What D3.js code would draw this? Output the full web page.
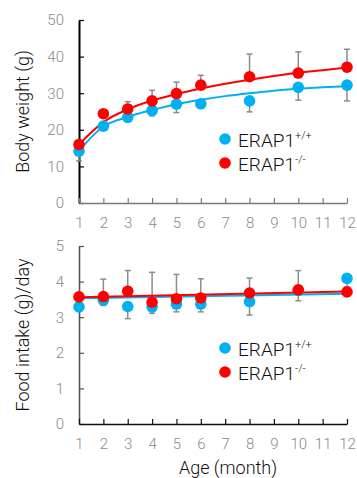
<!DOCTYPE html>
<html>
<head>
<meta charset="utf-8">
<script src="https://cdn.jsdelivr.net/npm/d3@7"></script>
<style>
  html, body { margin: 0; padding: 0; background: #fff; }
  svg { display: block; }
  text { font-family: Roboto, sans-serif; font-weight: 300; }
</style>
</head>
<body>
<svg id="chart" width="357" height="478"></svg>
<script>
// ---- data ----
const months = [1, 2, 3, 4, 5, 6, 8, 10, 12];
const xTicks = [1, 2, 3, 4, 5, 6, 7, 8, 9, 10, 11, 12];
const seriesNames = ["ERAP1", "ERAP1"];
const seriesSup = ["+/+", "-/-"];

// Body weight (g)
const bwWT = [14.2, 21.0, 23.4, 25.3, 27.0, 27.1, 27.9, 31.6, 32.2];
const bwWTerr = [2.7, 0.6, 0.8, 1.5, 2.3, 0.8, 3.0, 3.5, 4.3];      // drawn downward
const bwKO = [16.0, 24.4, 25.7, 27.9, 29.9, 32.2, 34.5, 35.5, 37.1];
const bwKOerr = [0.8, 0.6, 2.0, 2.9, 3.1, 2.7, 6.2, 5.8, 4.9];      // drawn upward
// trend curves read at each month
const trendMonths = [1, 2, 3, 4, 5, 6, 7, 8, 9, 10, 11, 12];
const bwWTtrend = [14.3, 20.9, 23.5, 25.4, 27.0, 28.2, 29.2, 30.0, 30.7, 31.2, 31.6, 31.9];
const bwKOtrend = [16.0, 22.1, 25.6, 28.0, 29.8, 31.3, 32.6, 33.7, 34.7, 35.6, 36.3, 37.0];
const bwTicks = [0, 10, 20, 30, 40, 50];

// Food intake (g)/day
const fiWT = [3.29, 3.48, 3.30, 3.29, 3.37, 3.37, 3.44, 3.75, 4.09];
const fiWTerr = [0.1, 0.15, 0.34, 0.18, 0.22, 0.22, 0.38, 0.29, 0.25];
const fiKO = [3.57, 3.58, 3.73, 3.42, 3.52, 3.54, 3.68, 3.77, 3.71];
const fiKOerr = [0.1, 0.49, 0.58, 0.84, 0.68, 0.54, 0.42, 0.54, 0.1];
const fiTrendMonths = [1, 12];
const fiWTtrend = [3.53, 3.66];
const fiKOtrend = [3.56, 3.72];
const fiTicks = [0, 1, 2, 3, 4, 5];

const BLUE = "#00B0F0", RED = "#FF0000", ERR = "#8c8c8c", TICKC = "#8a8a8a";

const svg = d3.select("#chart");
const x = d3.scaleLinear().domain([1, 12]).range([79, 347]);

function panel(cfg) {
  const y = d3.scaleLinear().domain(cfg.domain).range(cfg.range);
  const g = svg.append("g");

  // axes
  const ya = g.append("g").attr("transform", `translate(${x(1)},0)`)
    .call(d3.axisLeft(y).tickValues(cfg.ticks).tickFormat(d3.format("d")).tickSizeInner(-5).tickSizeOuter(0).tickPadding(15));
  ya.select(".domain").attr("stroke", cfg.yColor).attr("stroke-width", cfg.yWidth);
  ya.selectAll(".tick line").attr("stroke", cfg.yColor).attr("stroke-width", 1.2);
  ya.selectAll(".tick text").attr("fill", TICKC).style("font-family", "Roboto, sans-serif").style("font-weight", 300).style("font-size", "15px");

  const xa = g.append("g").attr("transform", `translate(0,${y(0)})`)
    .call(d3.axisBottom(x).tickValues(xTicks).tickFormat(d3.format("d")).tickSizeInner(-5).tickSizeOuter(0).tickPadding(14));
  xa.select(".domain").attr("stroke", cfg.xColor).attr("stroke-width", 1.6);
  xa.selectAll(".tick line").attr("stroke", cfg.xColor).attr("stroke-width", 1.2);
  xa.selectAll(".tick text").attr("fill", TICKC).style("font-family", "Roboto, sans-serif").style("font-weight", 300).style("font-size", "15px");

  // y title
  g.append("text")
    .attr("transform", `translate(29,${(cfg.range[0] + cfg.range[1]) / 2}) rotate(-90)`)
    .attr("text-anchor", "middle")
    .style("font-size", "18px").attr("fill", "#111")
    .text(cfg.title);

  // error bars
  const errs = [
    { vals: cfg.wt, err: cfg.wtErr, dir: -1 },
    { vals: cfg.ko, err: cfg.koErr, dir: 1 }
  ];
  errs.forEach(s => {
    months.forEach((m, i) => {
      const yEnd = y(s.vals[i] + s.dir * s.err[i]);
      g.append("line").attr("x1", x(m)).attr("x2", x(m))
        .attr("y1", y(s.vals[i])).attr("y2", yEnd)
        .attr("stroke", ERR).attr("stroke-width", 1.5);
      g.append("line").attr("x1", x(m) - 3).attr("x2", x(m) + 3)
        .attr("y1", yEnd).attr("y2", yEnd)
        .attr("stroke", ERR).attr("stroke-width", 1.5);
    });
  });

  // trend lines
  const line = d3.line().x(d => x(d[0])).y(d => y(d[1])).curve(d3.curveMonotoneX);
  g.append("path").datum(cfg.tMonths.map((m, i) => [m, cfg.wtTrend[i]]))
    .attr("d", line).attr("fill", "none").attr("stroke", BLUE).attr("stroke-width", 2);
  g.append("path").datum(cfg.tMonths.map((m, i) => [m, cfg.koTrend[i]]))
    .attr("d", line).attr("fill", "none").attr("stroke", RED).attr("stroke-width", 2);

  // dots
  g.selectAll(".wt").data(months).join("circle")
    .attr("cx", d => x(d)).attr("cy", (d, i) => y(cfg.wt[i])).attr("r", 5.8).attr("fill", BLUE);
  g.selectAll(".ko").data(months).join("circle")
    .attr("cx", d => x(d)).attr("cy", (d, i) => y(cfg.ko[i])).attr("r", 5.8).attr("fill", RED);

  // legend
  [BLUE, RED].forEach((c, i) => {
    const ly = cfg.legendY + i * 24;
    g.append("circle").attr("cx", 225).attr("cy", ly).attr("r", 5.8).attr("fill", c);
    const t = g.append("text").attr("x", 238).attr("y", ly + 8)
      .style("font-size", "19px").attr("fill", "#111");
    t.append("tspan").text(seriesNames[i]);
    t.append("tspan").attr("dy", -8).style("font-size", "11px").text(seriesSup[i]);
  });
}

panel({
  domain: [0, 50], range: [203, 20], ticks: bwTicks, title: "Body weight (g)",
  wt: bwWT, wtErr: bwWTerr, ko: bwKO, koErr: bwKOerr,
  tMonths: trendMonths, wtTrend: bwWTtrend, koTrend: bwKOtrend,
  yColor: "#000", yWidth: 2, xColor: "#7a7a7a", legendY: 139
});

panel({
  domain: [0, 5], range: [424, 246], ticks: fiTicks, title: "Food intake (g)/day",
  wt: fiWT, wtErr: fiWTerr, ko: fiKO, koErr: fiKOerr,
  tMonths: fiTrendMonths, wtTrend: fiWTtrend, koTrend: fiKOtrend,
  yColor: "#555", yWidth: 1.6, xColor: "#111", legendY: 348
});

svg.append("text").attr("x", 228).attr("y", 474).attr("text-anchor", "middle")
  .style("font-size", "18px").attr("fill", "#111")
  .text("Age (month)");
</script>
</body>
</html>
